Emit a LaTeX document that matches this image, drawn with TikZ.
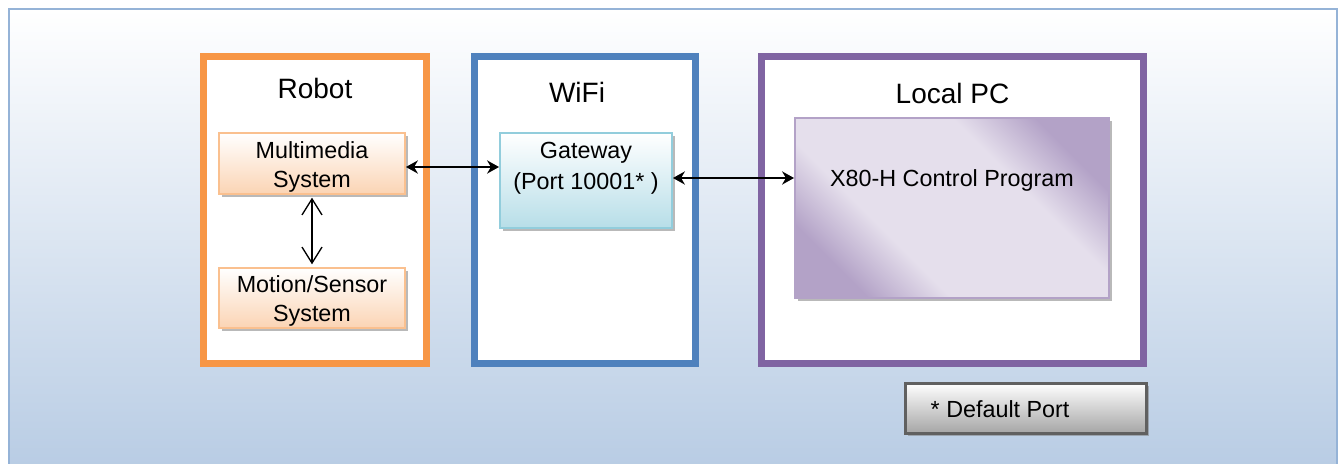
\documentclass[tikz,border=0pt]{standalone}
\usepackage{fontspec}
\setmainfont{Liberation Sans}
\usetikzlibrary{arrows.meta,shadows}

\definecolor{robotorange}{HTML}{F79646}
\definecolor{wifiblue}{HTML}{4F81BD}
\definecolor{pcpurple}{HTML}{8064A2}
\definecolor{skyline}{HTML}{95B3D7}
\definecolor{skybottom}{HTML}{B8CCE4}
\definecolor{peach}{HTML}{FBD4B4}
\definecolor{peachline}{HTML}{FAC08F}
\definecolor{aqua}{HTML}{B7DEE8}
\definecolor{aqualine}{HTML}{92CDDC}
\definecolor{lilac}{HTML}{B3A2C7}
\definecolor{lilacpale}{HTML}{E5DFEC}
\definecolor{steel}{HTML}{A6A6A6}
\definecolor{steelline}{HTML}{606060}

\pgfdeclareverticalshading{lilacband}{100bp}{color(0bp)=(lilac); color(25bp)=(lilac);
  color(37bp)=(lilacpale); color(63bp)=(lilacpale); color(75bp)=(lilac); color(100bp)=(lilac)}

\tikzset{
  zone/.style={draw=#1, fill=white, line width=5.25pt, minimum height=230.25pt},
  zonetitle/.style={font=\fontsize{21}{25}\selectfont},
  unitbox/.style={draw, line width=1.5pt,
    drop shadow={shadow xshift=2.5pt, shadow yshift=-2.5pt, fill=black!50, opacity=.55}},
  unittext/.style={align=center, font=\fontsize{17.5}{21.5}\selectfont},
  link/.style={{Stealth[length=9pt,width=10pt,inset=3pt]}-{Stealth[length=9pt,width=10pt,inset=3pt]}, line width=1pt},
}

\begin{document}
\begin{tikzpicture}[x=0.75pt, y=-0.75pt]
    \useasboundingbox (0,0) rectangle (1340,464);
    \clip (0,0) rectangle (1340,464);
    \shade[top color=white, bottom color=skybottom] (9,9) rectangle (1337,470);
    \draw[skyline, line width=1.5pt] (9,9) rectangle (1337,470);

    \draw (315,210) node[zone=robotorange, minimum width=167.25pt] (robot) {};
    \draw (585,210) node[zone=wifiblue, minimum width=165.75pt] (wifi) {};
    \draw (952.5,210) node[zone=pcpurple, minimum width=286.5pt] (pc) {};

    \draw (315,88) node[zonetitle] (robottitle) {Robot};
    \draw (577,92) node[zonetitle] (wifititle) {WiFi};
    \draw (952.5,93) node[zonetitle] (pctitle) {Local PC};

    \draw (312,163.5) node[unitbox, draw=peachline, top color=white, bottom color=peach,
        minimum width=139.5pt, minimum height=45.75pt] (media) {};
    \draw (312,167) node[unittext] (mediatext) {Multimedia\\System};
    \draw (312,298) node[unitbox, draw=peachline, top color=white, bottom color=peach,
        minimum width=139.5pt, minimum height=45pt] (motion) {};
    \draw (312,301) node[unittext] (motiontext) {Motion/Sensor\\System};
    \draw (586,180.5) node[unitbox, draw=aqualine, top color=white, bottom color=aqua,
        minimum width=129pt, minimum height=71.25pt] (gate) {};
    \draw (586,168.5) node[unittext, font=\fontsize{17.5}{23}\selectfont] (gatetext) {Gateway\\(Port 10001* )};
    \draw (952,208) node[unitbox, draw=lilac, shading=lilacband, shading angle=-45,
        minimum width=235.5pt, minimum height=135pt] (prog) {};
    \draw (952,180) node[unittext] (progtext) {X80-H Control Program};
    \draw (1025.5,408) node[unitbox, draw=steelline, line width=2.25pt, top color=white,
        bottom color=steel, minimum width=180.75pt, minimum height=37.5pt] (note) {};
    \draw (926,409) node[unittext, anchor=west] (notetext) {* Default Port};

    \draw[link] (media.east |- 0,167) -- (gate.west |- 0,167);
    \draw[link] (gate.east |- 0,178) -- (prog.west |- 0,178);
    \draw[{Straight Barb[length=12pt,width=15pt]}-{Straight Barb[length=12pt,width=15pt]}, line width=1pt,
        shorten <=2pt, shorten >=2pt] (media) -- (motion);
\end{tikzpicture}
\end{document}
